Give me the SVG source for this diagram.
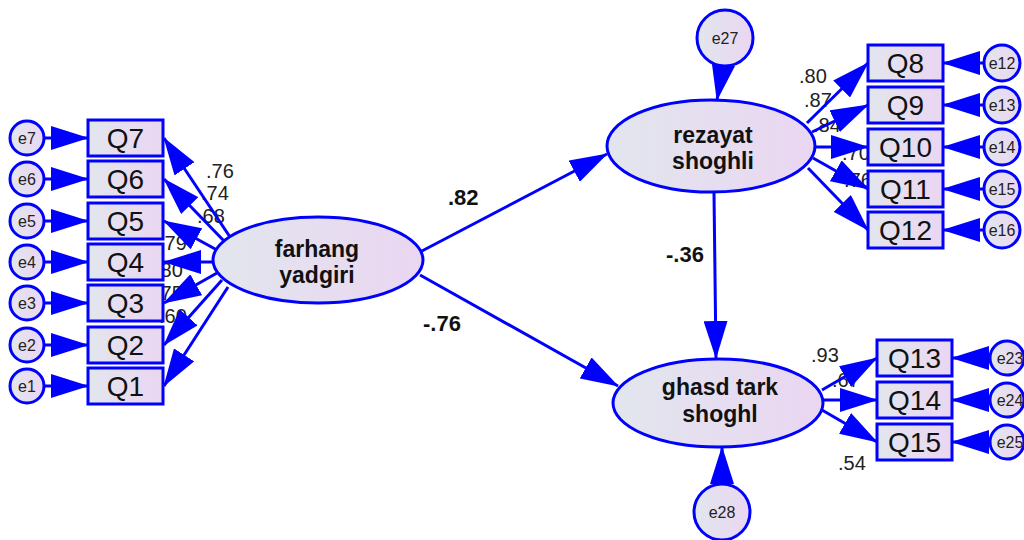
<svg xmlns="http://www.w3.org/2000/svg" width="1024" height="540" viewBox="0 0 1024 540">
<defs>
<linearGradient id="g" x1="0" y1="0" x2="1" y2="0">
<stop offset="0" stop-color="#E2E6EE"/>
<stop offset="1" stop-color="#EAD6F2"/>
</linearGradient>
<marker id="ah" markerUnits="userSpaceOnUse" markerWidth="38" markerHeight="24" viewBox="0 0 38 24" refX="37" refY="12" orient="auto">
<path d="M0,0 L38,12 L0,24 Z" fill="#0000FF"/>
</marker>
<style>
.nd{fill:url(#g);stroke:#0000FF;stroke-width:3}
.q{font-family:"Liberation Sans",Arial,sans-serif;font-size:28px;fill:#111;text-anchor:middle}
.e{font-family:"Liberation Sans",Arial,sans-serif;font-size:16px;fill:#222;text-anchor:middle}
.lv{font-family:"Liberation Sans",Arial,sans-serif;font-size:23px;font-weight:bold;fill:#111;text-anchor:middle}
.w{font-family:"Liberation Sans",Arial,sans-serif;font-size:20px;fill:#222}
.b{font-family:"Liberation Sans",Arial,sans-serif;font-size:22px;font-weight:bold;fill:#111}
.c line{stroke:#0000FF;stroke-width:3;marker-end:url(#ah)}
</style>
</defs>
<rect width="1024" height="540" fill="#fff"/>

<g id="labels">
<text class="w" x="206" y="178">.76</text>
<text class="w" x="201" y="200">.74</text>
<text class="w" x="197" y="223">.68</text>
<text class="w" x="159" y="250">.79</text>
<text class="w" x="155" y="277">.80</text>
<text class="w" x="155" y="300">.75</text>
<text class="w" x="159" y="323">.60</text>
<text class="w" x="799" y="83">.80</text>
<text class="w" x="804" y="107">.87</text>
<text class="w" x="813" y="132">.84</text>
<text class="w" x="842" y="160">.70</text>
<text class="w" x="844" y="187">.76</text>
<text class="w" x="811" y="362">.93</text>
<text class="w" x="832" y="387">.67</text>
<text class="w" x="838" y="470">.54</text>
<text class="b" x="448" y="205">.82</text>
<text class="b" x="423" y="331">-.76</text>
<text class="b" x="666" y="262">-.36</text>
</g>

<g id="connectors" class="c">
<line x1="44" y1="138" x2="88" y2="138"/>
<line x1="44" y1="179" x2="88" y2="179"/>
<line x1="44" y1="221" x2="88" y2="221"/>
<line x1="44" y1="262" x2="88" y2="262"/>
<line x1="44" y1="303" x2="88" y2="303"/>
<line x1="44" y1="345" x2="88" y2="345"/>
<line x1="44" y1="386" x2="88" y2="386"/>
<line x1="230" y1="237" x2="164" y2="138"/>
<line x1="225" y1="242" x2="164" y2="179"/>
<line x1="217" y1="250" x2="164" y2="221"/>
<line x1="213" y1="262" x2="164" y2="262"/>
<line x1="217" y1="273" x2="164" y2="303"/>
<line x1="222" y1="280" x2="164" y2="345"/>
<line x1="228" y1="287" x2="164" y2="386"/>
<line x1="420" y1="252" x2="607" y2="154"/>
<line x1="420" y1="275" x2="618" y2="386"/>
<line x1="714" y1="193" x2="716" y2="358"/>
<line x1="723" y1="66" x2="717" y2="100"/>
<line x1="722" y1="484" x2="722" y2="447"/>
<line x1="807" y1="123" x2="868" y2="63"/>
<line x1="812" y1="132" x2="868" y2="105"/>
<line x1="815" y1="147" x2="868" y2="147"/>
<line x1="813" y1="158" x2="868" y2="189"/>
<line x1="808" y1="168" x2="868" y2="230"/>
<line x1="984" y1="63" x2="943" y2="63"/>
<line x1="984" y1="105" x2="943" y2="105"/>
<line x1="984" y1="147" x2="943" y2="147"/>
<line x1="984" y1="189" x2="943" y2="189"/>
<line x1="984" y1="230" x2="943" y2="230"/>
<line x1="822" y1="390" x2="877" y2="358"/>
<line x1="823" y1="400" x2="877" y2="400"/>
<line x1="822" y1="410" x2="877" y2="442"/>
<line x1="990" y1="358" x2="952" y2="358"/>
<line x1="990" y1="400" x2="952" y2="400"/>
<line x1="990" y1="442" x2="952" y2="442"/>
</g>

<g id="farhang"><ellipse class="nd" cx="318" cy="260" rx="105" ry="43"/><text class="lv" x="317" y="257">farhang</text><text class="lv" x="317" y="283">yadgiri</text></g>
<g id="rezayat"><ellipse class="nd" cx="711" cy="146" rx="104" ry="46"/><text class="lv" x="713" y="143">rezayat</text><text class="lv" x="713" y="169">shoghli</text></g>
<g id="ghasd"><ellipse class="nd" cx="718" cy="403" rx="105" ry="44"/><text class="lv" x="720" y="395">ghasd tark</text><text class="lv" x="720" y="422">shoghl</text></g>

<g id="Q7"><rect class="nd" x="88" y="120" width="75" height="36"/><text class="q" x="125.5" y="148">Q7</text></g>
<g id="Q6"><rect class="nd" x="88" y="161" width="75" height="36"/><text class="q" x="125.5" y="189">Q6</text></g>
<g id="Q5"><rect class="nd" x="88" y="203" width="75" height="36"/><text class="q" x="125.5" y="231">Q5</text></g>
<g id="Q4"><rect class="nd" x="88" y="244" width="75" height="36"/><text class="q" x="125.5" y="272">Q4</text></g>
<g id="Q3"><rect class="nd" x="88" y="285" width="75" height="36"/><text class="q" x="125.5" y="313">Q3</text></g>
<g id="Q2"><rect class="nd" x="88" y="327" width="75" height="36"/><text class="q" x="125.5" y="355">Q2</text></g>
<g id="Q1"><rect class="nd" x="88" y="368" width="75" height="36"/><text class="q" x="125.5" y="396">Q1</text></g>

<g id="e7"><circle class="nd" cx="27" cy="138" r="17"/><text class="e" x="27" y="144">e7</text></g>
<g id="e6"><circle class="nd" cx="27" cy="179" r="17"/><text class="e" x="27" y="185">e6</text></g>
<g id="e5"><circle class="nd" cx="27" cy="221" r="17"/><text class="e" x="27" y="227">e5</text></g>
<g id="e4"><circle class="nd" cx="27" cy="262" r="17"/><text class="e" x="27" y="268">e4</text></g>
<g id="e3"><circle class="nd" cx="27" cy="303" r="17"/><text class="e" x="27" y="309">e3</text></g>
<g id="e2"><circle class="nd" cx="27" cy="345" r="17"/><text class="e" x="27" y="351">e2</text></g>
<g id="e1"><circle class="nd" cx="27" cy="386" r="17"/><text class="e" x="27" y="392">e1</text></g>

<g id="Q8"><rect class="nd" x="868" y="45" width="75" height="36"/><text class="q" x="905.5" y="73">Q8</text></g>
<g id="Q9"><rect class="nd" x="868" y="87" width="75" height="36"/><text class="q" x="905.5" y="115">Q9</text></g>
<g id="Q10"><rect class="nd" x="868" y="129" width="75" height="36"/><text class="q" x="905.5" y="157">Q10</text></g>
<g id="Q11"><rect class="nd" x="868" y="171" width="75" height="36"/><text class="q" x="905.5" y="199">Q11</text></g>
<g id="Q12"><rect class="nd" x="868" y="212" width="75" height="36"/><text class="q" x="905.5" y="240">Q12</text></g>

<g id="e12"><circle class="nd" cx="1002" cy="63" r="18"/><text class="e" x="1002" y="69">e12</text></g>
<g id="e13"><circle class="nd" cx="1002" cy="105" r="18"/><text class="e" x="1002" y="111">e13</text></g>
<g id="e14"><circle class="nd" cx="1002" cy="147" r="18"/><text class="e" x="1002" y="153">e14</text></g>
<g id="e15"><circle class="nd" cx="1002" cy="189" r="18"/><text class="e" x="1002" y="195">e15</text></g>
<g id="e16"><circle class="nd" cx="1002" cy="230" r="18"/><text class="e" x="1002" y="236">e16</text></g>

<g id="Q13"><rect class="nd" x="877" y="340" width="75" height="36"/><text class="q" x="914.5" y="368">Q13</text></g>
<g id="Q14"><rect class="nd" x="877" y="382" width="75" height="36"/><text class="q" x="914.5" y="410">Q14</text></g>
<g id="Q15"><rect class="nd" x="877" y="424" width="75" height="36"/><text class="q" x="914.5" y="452">Q15</text></g>

<g id="e23"><circle class="nd" cx="1007" cy="358" r="17"/><text class="e" x="1010" y="364">e23</text></g>
<g id="e24"><circle class="nd" cx="1007" cy="400" r="17"/><text class="e" x="1010" y="406">e24</text></g>
<g id="e25"><circle class="nd" cx="1007" cy="442" r="17"/><text class="e" x="1010" y="448">e25</text></g>

<g id="e27"><circle class="nd" cx="725" cy="38" r="28"/><text class="e" x="725" y="44">e27</text></g>
<g id="e28"><circle class="nd" cx="722" cy="512" r="28"/><text class="e" x="722" y="518">e28</text></g>
</svg>
